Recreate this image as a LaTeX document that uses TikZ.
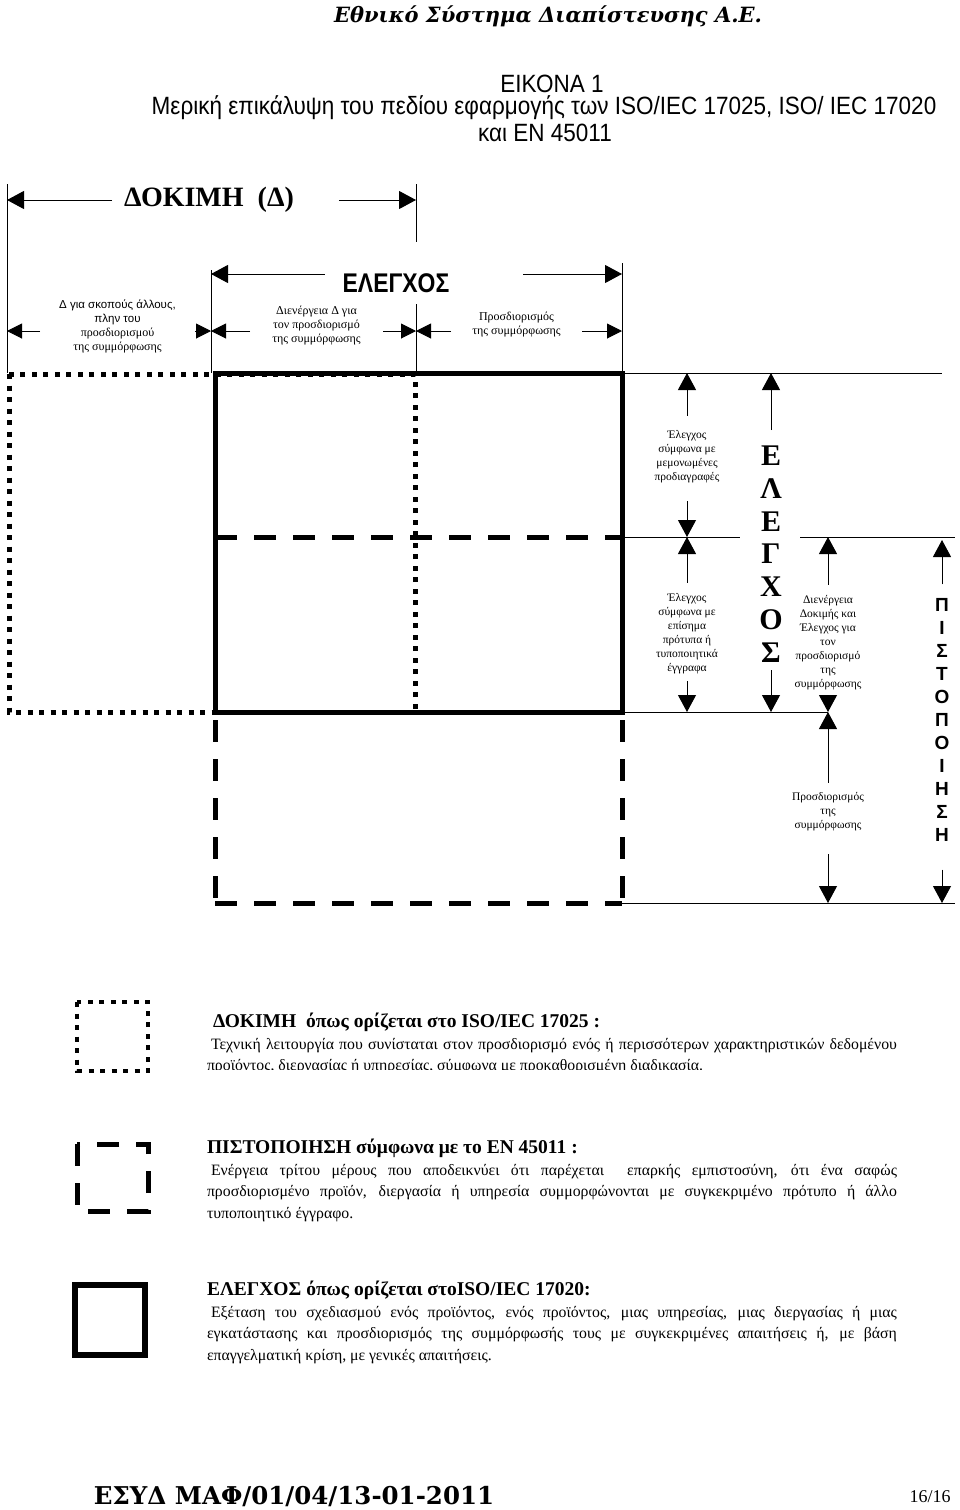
\documentclass[tikz,border=0pt]{standalone}
\usepackage{fontspec}
\setmainfont{Liberation Serif}
\setsansfont{Liberation Sans}
\newfontfamily\narrowsans[FakeStretch=0.85]{Liberation Sans}
\newfontfamily\titlesans[FakeStretch=0.9]{Liberation Sans}
\newfontfamily\slabserif{DejaVu Serif}
\newcommand\legheadfont{\bfseries\fontsize{19.5}{22}\selectfont} % 图例标题字体
\usetikzlibrary{arrows.meta, positioning, calc}

\begin{document}
\begin{tikzpicture}[
    x=1pt, y=-1pt,
    every node/.style={inner sep=0pt, outer sep=0pt}, % 统一边距
    guide/.style={black, line width=1pt}, % 细分界线
    dimarr/.style={black, line width=1pt, -{Triangle[length=17pt, width=18pt]}}, % 尺寸箭头
    dimsmall/.style={black, line width=1pt, -{Triangle[length=15pt, width=15pt]}}, % 小尺寸箭头
    dotbox/.style={line width=5pt, dash pattern=on 5pt off 6.5pt}, % 方点线(ΔΟΚΙΜΗ)
    dashbox/.style={line width=5pt, dash pattern=on 22pt off 17pt}, % 粗虚线(ΠΙΣΤΟΠΟΙΗΣΗ)
    solidbox/.style={line width=5pt}, % 粗实线(ΕΛΕΓΧΟΣ)
    tinytxt/.style={font=\fontsize{11.5}{14}\selectfont, align=center}, % 右侧小字
    rowtxt/.style={font=\fontsize{12}{14}\selectfont, align=center}, % 第三行小字
    titletxt/.style={font=\titlesans\fontsize{25}{27}\selectfont}, % 标题
    vletter/.style={font=\fontsize{30}{30}\selectfont\bfseries}, % 竖排大字母
    pletter/.style={font=\sffamily\fontsize{19}{19}\selectfont\bfseries}, % 竖排小字母
    legtxt/.style={font=\fontsize{15.8}{21.5}\selectfont, text width=690pt, align=justify, anchor=north west} % 图例说明
]
    \fill[white] (0,0) rectangle (960,1510);
    \useasboundingbox (0,0) rectangle (960,1510);

    % 1. 页眉与标题
    \node[font=\slabserif\bfseries\itshape\fontsize{21}{24}\selectfont] (hdr) at (548,16) {Εθνικό Σύστημα Διαπίστευσης Α.Ε.};
    \node[titletxt] (fig) at (552,84) {ΕΙΚΟΝΑ 1};
    \node[titletxt] (cap1) at (544,108) {Μερική επικάλυψη του πεδίου εφαρμογής των ISO/IEC 17025, ISO/ IEC 17020};
    \node[titletxt] (cap2) at (545,133) {και ΕΝ 45011};

    % 2. 参考坐标(竖线 x / 横线 y)
    \coordinate (va) at (7,0);
    \coordinate (vb) at (211,0);
    \coordinate (vc) at (416,0);
    \coordinate (vd) at (622,0);
    \coordinate (dokrow) at (0,200);
    \coordinate (elrow) at (0,274);
    \coordinate (row3) at (0,331);
    \coordinate (hA) at (0,373);
    \coordinate (hB) at (0,537);
    \coordinate (hC) at (0,712);
    \coordinate (hD) at (0,903);

    % 3. 上方范围标注
    \draw[guide] (7,184) -- (7,373);
    \draw[guide] (416,184) -- (416,242);
    \draw[guide] (211,270) -- (211,373);
    \draw[guide] (622,263) -- (622,373);
    \draw[guide] (416,304) -- (416,373);

    \node[font=\bfseries\fontsize{28}{28}\selectfont] (dok) at (209,200) {ΔΟΚΙΜΗ\ \ (Δ)};
    \draw[dimarr, shorten <=12pt] (dok.west |- dokrow) -- (va |- dokrow);
    \draw[dimarr, shorten <=45pt] (dok.east |- dokrow) -- (vc |- dokrow);

    \node[font=\narrowsans\bfseries\fontsize{27}{27}\selectfont] (elx) at (396,283) {ΕΛΕΓΧΟΣ};
    \draw[dimarr, shorten <=18pt] (elx.west |- elrow) -- (vb |- elrow);
    \draw[dimarr, shorten <=74pt] (elx.east |- elrow) -- (vd |- elrow);

    \node[rowtxt, minimum width=155pt] (r1) at (117.5,326) {{\sffamily\fontsize{11.5}{14}\selectfont Δ για σκοπούς άλλους,}\\{\sffamily\fontsize{11.5}{14}\selectfont πλην του}\\προσδιορισμού\\της συμμόρφωσης};
    \draw[dimsmall] (r1.west |- row3) -- (va |- row3);
    \draw[dimsmall] (r1.east |- row3) -- (vb |- row3);
    \node[rowtxt, minimum width=133pt] (r2) at (316.5,326) {Διενέργεια Δ για\\τον προσδιορισμό\\της συμμόρφωσης};
    \draw[dimsmall] (r2.west |- row3) -- (vb |- row3);
    \draw[dimsmall] (r2.east |- row3) -- (vc |- row3);
    \node[rowtxt, minimum width=131pt] (r3) at (516.5,325) {Προσδιορισμός\\της συμμόρφωσης};
    \draw[dimsmall] (r3.west |- row3) -- (vc |- row3);
    \draw[dimsmall] (r3.east |- row3) -- (vd |- row3);

    % 4. 三种框线(先虚线, 再点线, 最后实线)
    \draw[dashbox] (215,537) -- (622,537);
    \draw[dashbox, dash phase=-8pt] (215,712) -- (215,903);
    \draw[dashbox, dash phase=-8pt] (622,712) -- (622,903);
    \draw[dashbox] (215,903) -- (622,903);
    \draw[dotbox] (9,374) rectangle (415,712);
    \draw[solidbox] (215,373) rectangle (622,712);

    % 5. 右侧细线与竖向标注
    \draw[guide] (622,373) -- (942,373);
    \draw[guide] (622,537) -- (740,537);
    \draw[guide] (800,537) -- (955,537);
    \draw[guide] (622,712) -- (828,712);
    \draw[guide] (615,903) -- (955,903);

    \node[tinytxt] (t1) at (687,457) {Έλεγχος\\σύμφωνα με\\μεμονωμένες\\προδιαγραφές};
    \draw[dimarr, shorten <=15pt] (t1) -- (t1 |- hA);
    \draw[dimarr, shorten <=18pt] (t1) -- (t1 |- hB);
    \node[tinytxt] (t2) at (687,634) {Έλεγχος\\σύμφωνα με\\επίσημα\\πρότυπα ή\\τυποποιητικά\\έγγραφα};
    \draw[dimarr, shorten <=11pt] (t2) -- (t2 |- hB);
    \draw[dimarr, shorten <=7pt] (t2) -- (t2 |- hC);

    \foreach \ch [count=\i] in {Ε,Λ,Ε,Γ,Χ,Ο,Σ} {
        \node[vletter] (ev\i) at (771, {456+32.7*(\i-1)}) {\ch};
    }
    \draw[dimarr, shorten <=16pt] (ev1) -- (ev1 |- hA);
    \draw[dimarr, shorten <=8pt] (ev7) -- (ev7 |- hC);

    \node[tinytxt] (t3) at (828,643) {Διενέργεια\\Δοκιμής και\\Έλεγχος για\\τον\\προσδιορισμό\\της\\συμμόρφωσης};
    \draw[dimarr, shorten <=11pt] (t3) -- (t3 |- hB);
    \draw[dimarr, shorten <=9pt] (t3) -- (t3 |- hC);
    \node[tinytxt] (t4) at (828,812) {Προσδιορισμός\\της\\συμμόρφωσης};
    \draw[dimarr, shorten <=10pt] (t4) -- (t4 |- hC);
    \draw[dimarr, shorten <=23pt] (t4) -- (t4 |- hD);

    \foreach \ch [count=\i] in {Π,Ι,Σ,Τ,Ο,Π,Ο,Ι,Η,Σ,Η} {
        \node[pletter] (pv\i) at (942, {605+23*(\i-1)}) {\ch};
    }
    \draw[dimarr, shorten <=14pt, shorten >=3pt] (pv1) -- (pv1 |- hB);
    \draw[dimarr, shorten <=28pt] (pv11) -- (pv11 |- hD);

    % 6. 图例
    \draw[dotbox, line width=4.5pt] (77,1002) rectangle (148,1071);
    \begin{scope}
        \clip (200,990) rectangle (920,1069);
        \node[legtxt] (leg1) at (207,1013) {\hspace*{6pt}{\legheadfont ΔΟΚΙΜΗ\ \ όπως ορίζεται στο ISO/IEC 17025 :\par}\hspace*{4pt}Τεχνική λειτουργία που συνίσταται στον προσδιορισμό ενός ή περισσότερων χαρακτηριστικών δεδομένου\linebreak προϊόντος, διεργασίας ή υπηρεσίας, σύμφωνα με προκαθορισμένη διαδικασία.};
    \end{scope}

    \draw[dashbox] (77,1144) rectangle (148,1211);
    \node[legtxt] (leg2) at (207,1139) {{\legheadfont ΠΙΣΤΟΠΟΙΗΣΗ σύμφωνα με το ΕΝ 45011 :\par}\hspace*{4pt}Ενέργεια τρίτου μέρους που αποδεικνύει ότι παρέχεται \ επαρκής εμπιστοσύνη, ότι ένα σαφώς\linebreak προσδιορισμένο προϊόν, διεργασία ή υπηρεσία συμμορφώνονται με συγκεκριμένο πρότυπο ή άλλο\linebreak τυποποιητικό έγγραφο.};

    \draw[solidbox, line width=6pt] (75,1285) rectangle (145,1355);
    \node[legtxt] (leg3) at (207,1281) {{\legheadfont ΕΛΕΓΧΟΣ όπως ορίζεται στοISO/IEC 17020:\par}\hspace*{4pt}Εξέταση του σχεδιασμού ενός προϊόντος, ενός προϊόντος, μιας υπηρεσίας, μιας διεργασίας ή μιας\linebreak εγκατάστασης και προσδιορισμός της συμμόρφωσής τους με συγκεκριμένες απαιτήσεις ή, με βάση\linebreak επαγγελματική κρίση, με γενικές απαιτήσεις.};

    % 7. 页脚
    \node[font=\slabserif\bfseries\fontsize{24.5}{26}\selectfont] (ftr) at (294,1497) {ΕΣΥΔ ΜΑΦ/01/04/13-01-2011};
    \node[font=\fontsize{18}{20}\selectfont] (pg) at (930,1497) {16/16};
\end{tikzpicture}
\end{document}
